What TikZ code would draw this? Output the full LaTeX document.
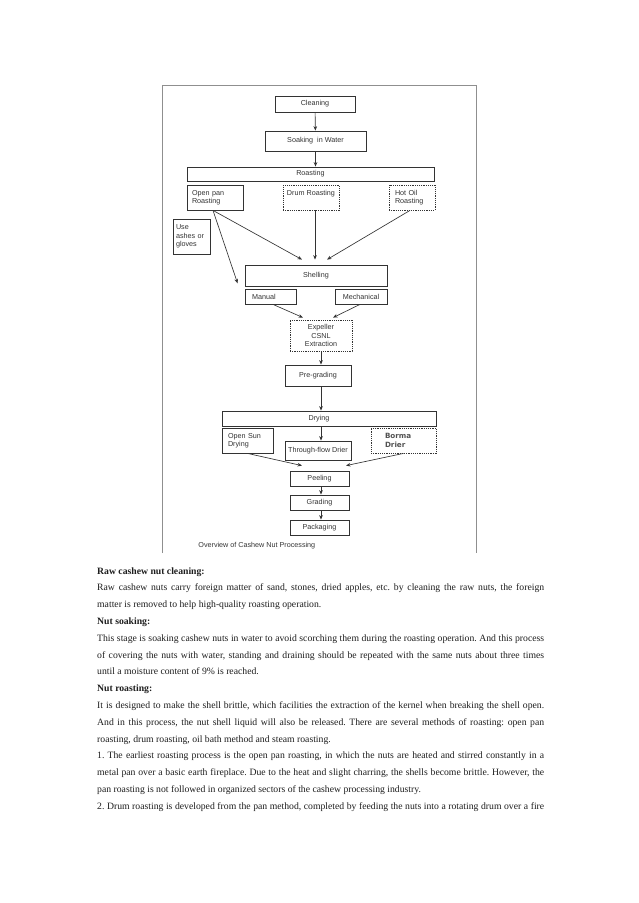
\documentclass[tikz,border=0pt]{standalone}
\usepackage{fontspec}
\setmainfont{Liberation Serif}
\newfontfamily\diafont{Liberation Sans}
\newfontfamily\bormafont{DejaVu Sans}
\usetikzlibrary{arrows.meta}

\definecolor{ink}{HTML}{333333}
\definecolor{rim}{HTML}{8F8F8F}
\definecolor{prose}{HTML}{1E1E1E}

% one justified line of the page text
\newcommand{\jline}[1]{\hbox to 447pt{\frenchspacing\spaceskip=.25em plus .6em minus .12em\relax#1}}

\begin{document}
\begin{tikzpicture}[x=1pt, y=-1pt,
		box/.style = {draw=ink, line width=.8pt, inner sep=0pt, text=ink, font=\diafont\fontsize{7.2}{8.3}\selectfont, align=center},
		dbox/.style = {box, dash pattern=on 1.2pt off 1pt},
		lbox/.style = {box, align=left, text width=#1},
		bbox/.style = {dbox, lbox=37pt, font=\bormafont\bfseries\fontsize{7.2}{9}\selectfont, text=ink!85},
		wh/.style 2 args = {minimum width=#1, minimum height=#2},
		arr/.style = {draw=ink, line width=.65pt, -{Stealth[length=4.5pt, width=3.6pt]}},
		txt/.style = {anchor=base west, inner sep=0pt, text=prose, font=\fontsize{9.7}{12}\selectfont},
		head/.style = {txt, font=\bfseries\fontsize{9.7}{12}\selectfont}]
	\fill[white] (0,0) rectangle (638,903);
	\useasboundingbox (0,0) rectangle (638,903);
	% frame of the scanned figure
	\draw[rim, line width=1pt] (162,553) -- (162,85) -- (476,85) -- (476,553);
	% flow chart
	\node[box, wh={80}{16}] (clean) at (315,104) {Cleaning};
	\node[box, wh={101}{20}] (soak) at (315.5,141) {Soaking\ \ in Water};
	\node[box, wh={247}{14}] (roast) at (310.5,174) {Roasting};
	\node[lbox=46pt, wh={56}{25}] (pan) at (215,197.5) {Open pan\\Roasting};
	\node[dbox, wh={56}{25}] (drum) at (311,197.5) {Drum Roasting\\\mbox{}};
	\node[dbox, lbox=34pt, wh={46}{25}] (oil) at (412,197.5) {Hot Oil\\Roasting};
	\node[lbox=31pt, wh={37}{35}] (ash) at (191.5,236.5) {Use\\ashes or\\gloves};
	\node[box, wh={142}{21}] (shell) at (316,275.5) {Shelling};
	\node[lbox=37pt, wh={51}{15}] (man) at (270.5,296.5) {Manual};
	\node[box, wh={52}{15}] (mech) at (361,296.5) {Mechanical};
	\node[dbox, wh={62}{31}] (exp) at (321,335.5) {Expeller\\CSNL\\Extraction};
	\node[box, wh={66}{21}] (pre) at (318,375.5) {Pre-grading};
	\node[box, wh={214}{15}] (dry) at (329,418.5) {Drying\hspace*{20pt}};
	\node[lbox=39pt, wh={51}{25}] (sun) at (247.5,440.5) {Open Sun\\Drying};
	\node[box, wh={66}{19}] (flow) at (318,450.5) {Through-flow Drier};
	\node[bbox, wh={65}{25}] (borma) at (403.5,440.5) {Borma\\Drier};
	\node[box, wh={59}{15}] (peel) at (319.5,478.5) {Peeling};
	\node[box, wh={59}{15}] (grade) at (319.5,502.5) {Grading};
	\node[box, wh={59}{15}] (pack) at (319.5,527.5) {Packaging};
	\node[box, draw=none, anchor=west] (cap) at (198,546) {Overview of Cashew Nut Processing};
	\draw[arr] (clean) -- (soak);
	\draw[arr] (soak) -- (soak |- roast.north);
	\draw[arr] ([xshift=-2pt]pan.south) -- ([xshift=-14pt, yshift=5pt]shell.north);
	\draw[arr] ([xshift=-2pt]pan.south) -- ([xshift=-7pt, yshift=3pt]shell.south west);
	\draw[arr] ([xshift=4pt]drum.south) -- ([xshift=-1pt, yshift=5pt]shell.north);
	\draw[arr] ([xshift=-2pt]oil.south) -- ([xshift=11pt, yshift=5pt]shell.north);
	\draw[arr] ([xshift=2.5pt]man.south) -- ([xshift=-18pt, yshift=2pt]exp.north);
	\draw[arr] ([xshift=-1pt]mech.south) -- ([xshift=12pt, yshift=2pt]exp.north);
	\draw[arr] (exp) -- (exp |- pre.north);
	\draw[arr] (pre.south -| exp) -- (dry.north -| exp);
	\draw[arr] (dry.south -| exp) -- (flow.north -| exp);
	\draw[arr] (sun.south) -- ([xshift=-17.5pt, yshift=5pt]peel.north);
	\draw[arr] (borma.south) -- ([xshift=26.5pt, yshift=5pt]peel.north);
	\draw[arr] (peel.south -| exp) -- (grade.north -| exp);
	\draw[arr] (grade.south -| exp) -- (pack.north -| exp);
	% page text
	\node[head] (h1) at (97,574) {Raw cashew nut cleaning:};
	\node[txt] (l1) at (97,590.8) {\jline{Raw cashew nuts carry foreign matter of sand, stones, dried apples, etc. by cleaning the raw nuts, the foreign}};
	\node[txt] (l2) at (97,607.6) {matter is removed to help high-quality roasting operation.};
	\node[head] (h2) at (97,624.4) {Nut soaking:};
	\node[txt] (l3) at (97,641.2) {\jline{This stage is soaking cashew nuts in water to avoid scorching them during the roasting operation. And this process}};
	\node[txt] (l4) at (97,658) {\jline{of covering the nuts with water, standing and draining should be repeated with the same nuts about three times}};
	\node[txt] (l5) at (97,674.8) {until a moisture content of 9\% is reached.};
	\node[head] (h3) at (97,691.6) {Nut roasting:};
	\node[txt] (l6) at (97,708.4) {\jline{It is designed to make the shell brittle, which facilities the extraction of the kernel when breaking the shell open.}};
	\node[txt] (l7) at (97,725.2) {\jline{And in this process, the nut shell liquid will also be released. There are several methods of roasting: open pan}};
	\node[txt] (l8) at (97,742) {roasting, drum roasting, oil bath method and steam roasting.};
	\node[txt] (l9) at (97,758.8) {\jline{1. The earliest roasting process is the open pan roasting, in which the nuts are heated and stirred constantly in a}};
	\node[txt] (l10) at (97,775.6) {\jline{metal pan over a basic earth fireplace. Due to the heat and slight charring, the shells become brittle. However, the}};
	\node[txt] (l11) at (97,792.4) {pan roasting is not followed in organized sectors of the cashew processing industry.};
	\node[txt] (l12) at (97,809.2) {\jline{2. Drum roasting is developed from the pan method, completed by feeding the nuts into a rotating drum over a fire}};
\end{tikzpicture}
\end{document}
